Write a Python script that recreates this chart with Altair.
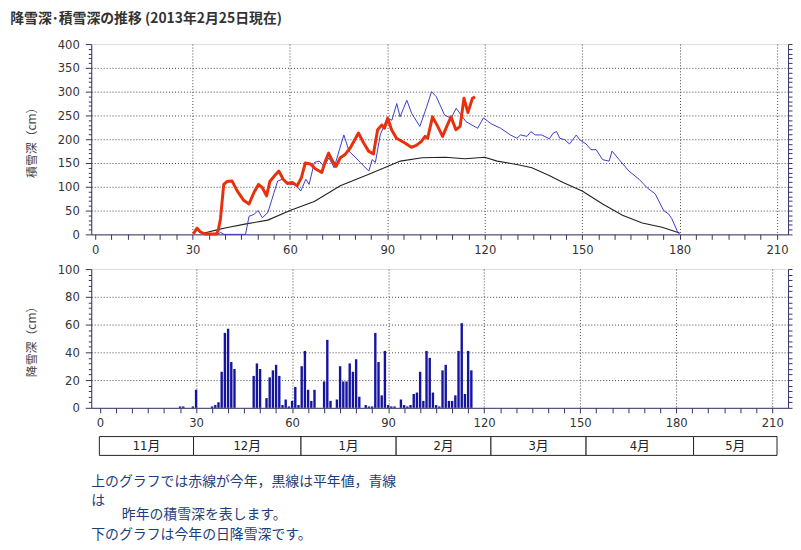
import altair as alt
import pandas as pd

# ---------------- data ----------------
# this year's snow depth (red)
red_day = [30.2, 31.4, 32.4, 33.8, 37.3, 37.9, 38.6, 39.6, 40.6, 42.2, 43.7, 45.8, 47.4, 48.9,
           50.3, 51.5, 52.8, 53.8, 55.6, 56.6, 57.9, 59.2, 60.7, 62.2, 63.5, 64.7, 66.3, 67.8,
           69.8, 70.9, 71.9, 73.1, 74.2, 75.5, 77.0, 78.6, 81.1, 82.7, 84.2, 85.7, 87.0, 88.3,
           89.1, 90.1, 91.3, 92.8, 95.4, 97.4, 98.9, 100.4, 101.6, 102.4, 103.9, 105.5, 107.0,
           108.3, 109.6, 111.1, 112.4, 113.6, 114.8, 116.2, 117.0]
red_cm = [1, 13, 5, 1, 1, 8, 33, 105, 111, 112, 92, 71, 64, 88,
          105, 98, 81, 111, 126, 133, 116, 107, 109, 102, 119, 150, 148, 138,
          130, 154, 171, 154, 143, 161, 168, 182, 213, 192, 175, 169, 220, 230,
          223, 244, 220, 202, 192, 183, 187, 195, 206, 202, 247, 227, 206,
          227, 247, 220, 227, 286, 256, 286, 289]

# last year's snow depth (blue)
blue_day = [37.5, 38.7, 39.7, 46.3, 47.4, 48.9, 50.2, 51.5, 53.2, 55.1, 56.2, 57.7, 60.3, 61.8,
            63.3, 64.9, 65.9, 67.5, 69.0, 70.5, 72.0, 73.6, 75.1, 76.6, 78.2, 81.7, 84.3, 85.3,
            86.3, 87.8, 89.9, 91.4, 92.9, 93.9, 96.0, 97.5, 100.0, 102.1, 103.6, 105.1, 107.6,
            109.6, 111.2, 114.2, 117.8, 119.6, 121.8, 124.9, 127.9, 129.9, 131.0, 133.0, 134.2,
            135.5, 137.5, 139.9, 141.1, 142.1, 143.1, 144.6, 146.1, 148.2, 149.2, 151.2, 152.7,
            154.3, 156.3, 158.3, 159.2, 161.4, 164.4, 167.5, 170.0, 172.5, 175.1, 176.6, 177.6,
            179.2, 180.0]
blue_cm = [0, 4, 0, 0, 38, 42, 50, 35, 46, 88, 112, 116, 105, 105,
           91, 116, 105, 151, 154, 143, 161, 140, 175, 209, 175, 151, 133, 157,
           151, 209, 244, 240, 275, 247, 282, 254, 227, 268, 300, 289, 251,
           244, 265, 237, 223, 245, 233, 223, 209, 202, 209, 206, 216,
           209, 209, 201, 213, 216, 202, 199, 190, 209, 199, 190, 178,
           178, 157, 154, 175, 157, 133, 116, 98, 85, 50, 43, 33,
           8, 0]

# normal-year snow depth (black)
black_day = [33.0, 37.8, 40.4, 46.5, 53.2, 60.0, 67.5, 75.5, 84.1, 90.2, 94.0, 100.7, 107.8,
             113.9, 120.0, 123.8, 129.9, 134.5, 140.0, 144.1, 150.0, 156.3, 162.4, 168.5,
             174.6, 180.0]
black_cm = [2, 10, 14, 22, 30, 50, 69, 102, 126, 143, 154, 161, 162,
            159, 162, 154, 147, 140, 123, 109, 91, 64, 40, 24,
            15, 3]

# this year's daily snowfall (bars)
bar_day = [25, 26, 29, 30, 35, 36, 37, 38, 39, 40, 41, 42, 48, 49, 50, 52, 53, 54, 55, 56,
           57, 58, 59, 60, 61, 62, 63, 64, 65, 66, 67, 70, 71, 72, 74, 75, 76, 77, 78, 79,
           80, 81, 83, 84, 85, 86, 87, 88, 89, 90, 91, 92, 94, 95, 96, 97, 98, 99, 100, 101,
           102, 103, 104, 105, 106, 107, 108, 109, 110, 111, 112, 113, 114, 115, 116]
bar_cm = [1, 1, 1, 13, 1, 2, 4, 26, 54, 57, 33, 28, 23, 32, 28, 7, 22, 27, 31, 23,
          2, 6, 1, 5, 15, 2, 30, 41, 13, 5, 13, 19, 49, 5, 6, 30, 19, 19, 32, 26,
          35, 8, 2, 1, 1, 54, 33, 9, 41, 2, 1, 1, 6, 2, 1, 2, 10, 11, 26, 5,
          41, 36, 11, 2, 1, 27, 31, 5, 5, 9, 41, 61, 10, 41, 27]

# month table
month_names = ["11月", "12月", "1月", "2月", "3月", "4月", "5月"]
month_start = [1.3, 30.3, 63.4, 92.7, 121.9, 151.2, 184.3]
month_end = [30.3, 63.4, 92.7, 121.9, 151.2, 184.3, 210.0]

note_lines = ["上のグラフでは赤線が今年，黒線は平年値，青線",
              "は",
              "昨年の積雪深を表します。",
              "下のグラフは今年の日降雪深です。"]

title_text = "降雪深･積雪深の推移 (2013年2月25日現在)"

# ---------------- styling ----------------
NUMFONT = "DejaVu Sans Condensed, Liberation Sans Narrow, Noto Sans CJK JP, sans-serif"
JPFONT = "Noto Sans CJK JP"
NAVY = "#333366"
GRIDC = "#444444"

W = 703
H1 = 192
H2 = 140
xscale = alt.Scale(domain=[-1.2, 213.4], nice=False, zero=False)


def x_axis():
    return alt.Axis(values=list(range(0, 211, 5)),
                    labelExpr="datum.value % 30 === 0 ? datum.label : ''",
                    format="d", labelOverlap=False, labelFlush=False,
                    tickSize=5, labelPadding=4, tickColor=NAVY, domainColor=NAVY,
                    grid=True, gridColor=GRIDC, gridDash=[1, 2],
                    gridOpacity={"condition": {"test": "datum.value % 30 === 0 && datum.value > 0", "value": 1}, "value": 0},
                    labelFont=NUMFONT, labelFontSize=13, labelColor="#333333", title=None)


def y_axis(maxv, minor, major, title):
    return alt.Axis(values=list(range(0, maxv + 1, minor)),
                    labelExpr=f"datum.value % {major} === 0 ? datum.label : ''",
                    format="d", labelOverlap=False, labelFlush=False,
                    tickSize={"condition": {"test": f"datum.value % {major} === 0", "value": 6}, "value": 3},
                    labelPadding=6, tickColor=NAVY, domainColor=NAVY,
                    grid=True, gridColor=GRIDC, gridDash=[1, 2],
                    gridOpacity={"condition": {"test": f"datum.value % {major} === 0 && datum.value > 0 && datum.value < {maxv}", "value": 1}, "value": 0},
                    labelFont=NUMFONT, labelFontSize=13, labelColor="#333333",
                    title=title, titleFont=JPFONT, titleFontSize=12, titleFontWeight="normal",
                    titleColor="#444444", titlePadding=19)


def right_axis(maxv, minor):
    return alt.Axis(orient="right", values=list(range(0, maxv + 1, minor)), labels=False,
                    tickSize=4, tickColor=NAVY, domainColor=NAVY, grid=False, title=None)


red_df = pd.DataFrame({"day": red_day, "cm": red_cm})
blue_df = pd.DataFrame({"day": blue_day, "cm": blue_cm})
black_df = pd.DataFrame({"day": black_day, "cm": black_cm})
bar_df = pd.DataFrame({"day": bar_day, "cm": bar_cm})

yscale1 = alt.Scale(domain=[0, 400], nice=False)
yscale2 = alt.Scale(domain=[0, 100], nice=False)

XA = x_axis()

black_layer = alt.Chart(black_df).mark_line(color="#222222", strokeWidth=1.1).encode(
    x=alt.X("day:Q", scale=xscale, axis=XA),
    y=alt.Y("cm:Q", scale=yscale1, axis=y_axis(400, 10, 50, "積雪深（cm）")))
blue_layer = alt.Chart(blue_df).mark_line(color="#3c3cc8", strokeWidth=1).encode(
    x=alt.X("day:Q", scale=xscale, axis=XA),
    y=alt.Y("cm:Q", scale=yscale1, axis=None))
red_layer = alt.Chart(red_df).mark_line(color="#e8300c", strokeWidth=3, strokeJoin="round").encode(
    x=alt.X("day:Q", scale=xscale, axis=XA),
    y=alt.Y("cm:Q", scale=yscale1, axis=None))
right1 = alt.Chart(black_df).mark_point(opacity=0).encode(
    x=alt.X("day:Q", scale=xscale, axis=XA),
    y=alt.Y("cm:Q", scale=yscale1, axis=right_axis(400, 10)))

upper = alt.layer(black_layer, blue_layer, red_layer, right1).resolve_axis(y="independent").properties(
    width=W, height=H1)

bars = alt.Chart(bar_df).mark_bar(size=2.4, color="#1414a0").encode(
    x=alt.X("day:Q", scale=xscale, axis=XA),
    y=alt.Y("cm:Q", scale=yscale2, axis=y_axis(100, 4, 20, "降雪深（cm）")))
right2 = alt.Chart(bar_df).mark_point(opacity=0).encode(
    x=alt.X("day:Q", scale=xscale, axis=XA),
    y=alt.Y("cm:Q", scale=yscale2, axis=right_axis(100, 4)))
lower = alt.layer(bars, right2).resolve_axis(y="independent").properties(width=W, height=H2)

# bottom panel: month table + note text (y in panel rows, downward)
table_top = [-6] * len(month_names)
table_bot = [13] * len(month_names)
note_row = [39.5, 59.5, 73.5, 93.5]
note_x = [-1.2, -1.2, 8.2, -1.2]

month_df = pd.DataFrame({"name": month_names, "s": month_start, "e": month_end,
                         "t": table_top, "b": table_bot})
month_df["mid"] = (month_df["s"] + month_df["e"]) / 2
month_df["ym"] = (month_df["t"] + month_df["b"]) / 2
note_df = pd.DataFrame({"text": note_lines, "row": note_row, "x": note_x})

yb = alt.Scale(domain=[0, 100], reverse=True, nice=False, zero=False)
cells = alt.Chart(month_df).mark_rect(fill="white", stroke="#222222", strokeWidth=1).encode(
    x=alt.X("s:Q", scale=xscale, axis=None), x2="e:Q",
    y=alt.Y("t:Q", scale=yb, axis=None), y2="b:Q")
cell_txt = alt.Chart(month_df).mark_text(font=NUMFONT, fontSize=13, color="#222222").encode(
    x=alt.X("mid:Q", scale=xscale, axis=None),
    y=alt.Y("ym:Q", scale=yb, axis=None),
    text="name:N")
notes = alt.Chart(note_df).mark_text(font=JPFONT, fontSize=14, color="#1a3d7c", align="left",
                                     baseline="middle").encode(
    x=alt.X("x:Q", scale=xscale, axis=None),
    y=alt.Y("row:Q", scale=yb, axis=None),
    text="text:N")
bottom = alt.layer(cells, cell_txt, notes).properties(
    width=W, height=100, view=alt.ViewBackground(stroke="transparent"))

chart = alt.vconcat(upper, lower, bottom, spacing=35, bounds="flush").properties(
    title=alt.TitleParams(title_text, anchor="start", dx=-15, offset=12, font=JPFONT,
                          fontSize=14, fontWeight="bold", color="#333333"),
    padding={"left": 2, "top": 1, "right": 0, "bottom": 0},
).configure_view(stroke=NAVY, strokeWidth=1).configure(background="white")

chart.save("out.html", embed_options={"renderer": "svg", "actions": False})
